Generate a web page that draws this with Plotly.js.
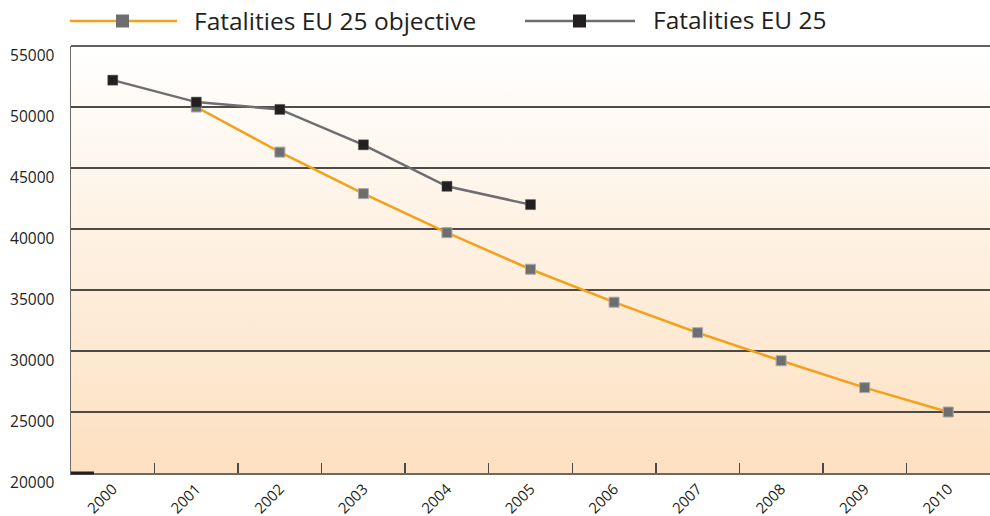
<!DOCTYPE html>
<html>
<head>
<meta charset="utf-8">
<script src="https://cdn.plot.ly/plotly-3.0.1.min.js"></script>
<style>html,body{margin:0;padding:0;background:#fff;}#chart{width:990px;height:516px;}</style>
</head>
<body>
<div id="chart"></div>
<script>
const years = ['2000','2001','2002','2003','2004','2005','2006','2007','2008','2009','2010'];
const objectiveYears = ['2001','2002','2003','2004','2005','2006','2007','2008','2009','2010'];
const objectiveValues = [50000, 46300, 42900, 39700, 36700, 34000, 31500, 29200, 27000, 25000];
const actualYears = ['2000','2001','2002','2003','2004','2005'];
const actualValues = [52200, 50400, 49800, 46900, 43500, 42000];
const seriesNames = ['Fatalities EU 25 objective', 'Fatalities EU 25'];
const yTicks = [20000, 25000, 30000, 35000, 40000, 45000, 50000, 55000];

const W = 990, H = 516;
const L = 71, R = 0, T = 46, B = 43;
const pw = W - L - R, ph = H - T - B;
const px = x => (x - L) / pw;
const py = y => (H - B - y) / ph;

const font = '"Open Sans", "DejaVu Sans", sans-serif';

const grad = 'data:image/svg+xml;charset=utf-8,' + encodeURIComponent(
  '<svg xmlns="http://www.w3.org/2000/svg" width="100" height="100" preserveAspectRatio="none">' +
  '<defs><linearGradient id="g" x1="0" y1="0" x2="0" y2="1">' +
  '<stop offset="0" stop-color="#ffffff"/><stop offset="1" stop-color="#fde0c0"/>' +
  '</linearGradient></defs><rect width="100" height="100" fill="url(#g)"/></svg>');

const traces = [
  {
    x: objectiveYears, y: objectiveValues, name: seriesNames[0], type: 'scatter', mode: 'lines+markers',
    line: {color: '#f5a01a', width: 2.5},
    marker: {symbol: 'square', size: 10, color: '#6d6e70', line: {color: '#a9a9a9', width: 1}},
    showlegend: false
  },
  {
    x: actualYears, y: actualValues, name: seriesNames[1], type: 'scatter', mode: 'lines+markers',
    line: {color: '#6d6e70', width: 2.5},
    marker: {symbol: 'square', size: 10, color: '#231f20', line: {color: '#555', width: 0.5}},
    showlegend: false
  }
];

const legY = 21;
const shapes = [
  {type: 'line', xref: 'paper', yref: 'paper', x0: 0, x1: 1, y0: 1, y1: 1, line: {color: '#2e2a26', width: 1.3}, layer: 'below'},
  {type: 'line', xref: 'paper', yref: 'paper', x0: px(70), x1: px(177), y0: py(legY), y1: py(legY), line: {color: '#f5a01a', width: 2.5}},
  {type: 'rect', xref: 'paper', yref: 'paper', x0: px(116), x1: px(129), y0: py(legY + 6.5), y1: py(legY - 6.5), fillcolor: '#6d6e70', line: {width: 0}},
  {type: 'line', xref: 'paper', yref: 'paper', x0: px(525), x1: px(635), y0: py(legY), y1: py(legY), line: {color: '#6d6e70', width: 2.5}},
  {type: 'rect', xref: 'paper', yref: 'paper', x0: px(573), x1: px(586), y0: py(legY + 6.5), y1: py(legY - 6.5), fillcolor: '#231f20', line: {width: 0}},
  {type: 'line', xref: 'paper', yref: 'paper', x0: 0, x1: px(94), y0: 0, y1: 0, line: {color: '#231f20', width: 3}}
];

const annotations = [
  {xref: 'paper', yref: 'paper', x: px(192), y: py(legY), xanchor: 'left', yanchor: 'middle', text: seriesNames[0], showarrow: false, font: {family: font, size: 24.5, color: '#231f20'}},
  {xref: 'paper', yref: 'paper', x: px(651), y: py(legY - 1), xanchor: 'left', yanchor: 'middle', text: seriesNames[1], showarrow: false, font: {family: font, size: 24.5, color: '#231f20'}}
];

const layout = {
  width: W, height: H,
  margin: {l: L, r: R, t: T, b: B, pad: 0},
  paper_bgcolor: '#ffffff',
  plot_bgcolor: 'rgba(0,0,0,0)',
  showlegend: false,
  images: [{source: grad, xref: 'paper', yref: 'paper', x: 0, y: 1, sizex: 1, sizey: 1, sizing: 'stretch', layer: 'below', xanchor: 'left', yanchor: 'top'}],
  xaxis: {
    type: 'category', categoryorder: 'array', categoryarray: years,
    range: [-0.5, 10.5], tickson: 'boundaries', ticks: 'inside', ticklen: 10, tickwidth: 1.5, tickcolor: '#4a4a4a',
    showgrid: false, showline: true, linecolor: '#6d6a66', linewidth: 1.5,
    tickangle: -45, tickfont: {family: font, size: 15, color: '#231f20'},
    automargin: false, fixedrange: true, zeroline: false
  },
  yaxis: {
    range: [20000, 55000], tickvals: yTicks, ticktext: yTicks.map(String),
    showgrid: true, gridcolor: '#4e4a46', gridwidth: 1.3,
    showline: true, linecolor: '#6d6a66', linewidth: 1.5,
    ticks: '', tickfont: {family: font, size: 15.5, color: '#231f20'},
    ticklabelshift: 10, ticklabelstandoff: 12,
    automargin: false, fixedrange: true, zeroline: false
  },
  shapes: shapes,
  annotations: annotations
};

Plotly.newPlot('chart', traces, layout, {displayModeBar: false, staticPlot: true});
</script>
</body>
</html>
